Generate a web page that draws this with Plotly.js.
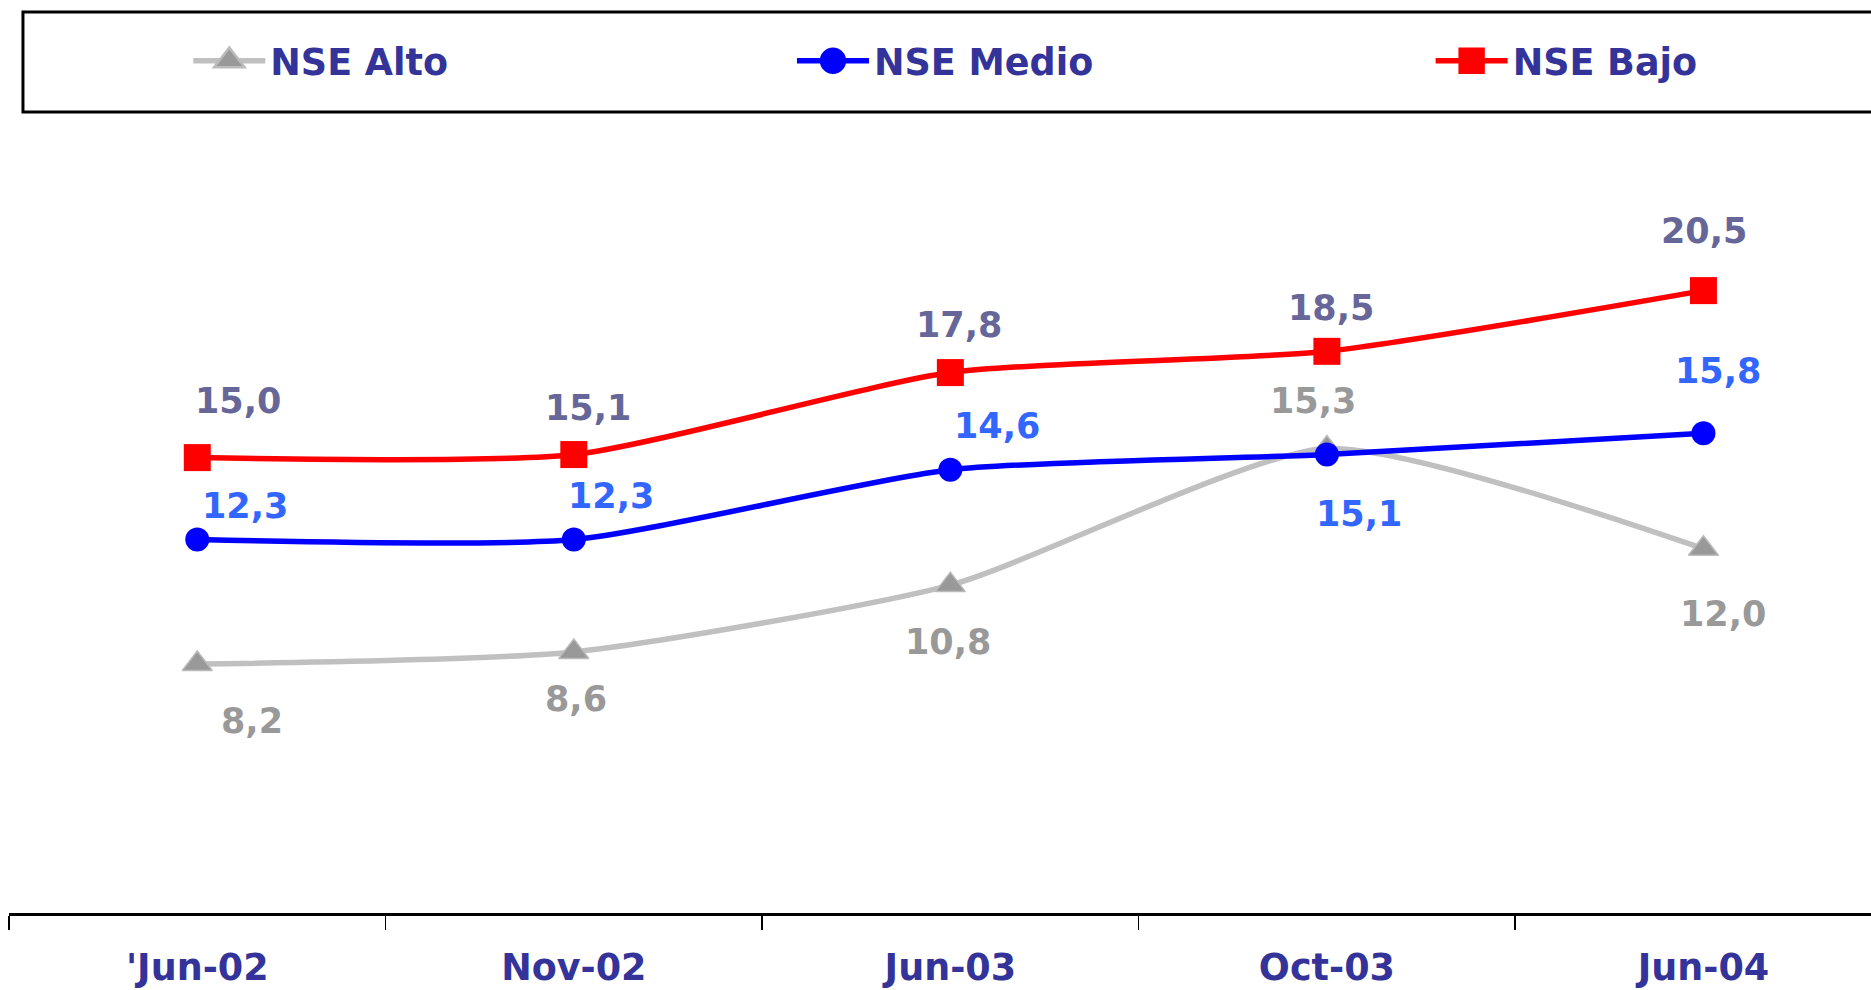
<!DOCTYPE html>
<html>
<head>
<meta charset="utf-8">
<script src="https://cdn.plot.ly/plotly-3.0.1.min.js"></script>
<style>
html,body{margin:0;padding:0;background:#fff;}
#chart{width:1871px;height:990px;}
</style>
</head>
<body>
<div id="chart"></div>
<script>
// ---- data ----
var categories = ["'Jun-02", "Nov-02", "Jun-03", "Oct-03", "Jun-04"];
var seriesNames = ["NSE Alto", "NSE Medio", "NSE Bajo"];
var nseAlto  = [8.2, 8.6, 10.8, 15.3, 12.0];
var nseMedio = [12.3, 12.3, 14.6, 15.1, 15.8];
var nseBajo  = [15.0, 15.1, 17.8, 18.5, 20.5];

// ---- label offsets (pixels, style only) ----
var altoShift  = [[55,-57],[2,-47],[-2,-57],[-14,47],[20,-65]];
var medioShift = [[48,34],[37,44],[47,44],[32,-59],[15,62]];
var bajoShift  = [[41,57],[14,47],[9,48],[4,43],[1,60]];

var axisColor = '#333399';
var labelFont = 'DejaVu Sans';

function fmt(v){ return v.toFixed(1).replace('.', ','); }

var traces = [
  {
    name: seriesNames[0], x: categories, y: nseAlto, type: 'scatter', mode: 'lines+markers',
    line: {color: '#C0C0C0', width: 5.5, shape: 'spline', smoothing: 0.6},
    marker: {symbol: 'triangle-up', size: 26, color: '#999999', line: {color: '#BBBBBB', width: 1.5}},
    legend: 'legend', hoverinfo: 'skip'
  },
  {
    name: seriesNames[1], x: categories, y: nseMedio, type: 'scatter', mode: 'lines+markers',
    line: {color: '#0000FF', width: 5.5, shape: 'spline', smoothing: 0.6},
    marker: {symbol: 'circle', size: 24, color: '#0000FF'},
    legend: 'legend2', hoverinfo: 'skip'
  },
  {
    name: seriesNames[2], x: categories, y: nseBajo, type: 'scatter', mode: 'lines+markers',
    line: {color: '#FF0000', width: 5.5, shape: 'spline', smoothing: 0.6},
    marker: {symbol: 'square', size: 27, color: '#FF0000'},
    legend: 'legend3', hoverinfo: 'skip'
  }
];

var annotations = [];
function addLabels(vals, shifts, color){
  vals.forEach(function(v, i){
    annotations.push({
      x: categories[i], y: v, xref: 'x', yref: 'y',
      text: fmt(v), showarrow: false,
      xshift: shifts[i][0], yshift: shifts[i][1],
      xanchor: 'center', yanchor: 'middle',
      font: {family: labelFont, size: 35, color: color, weight: 'bold'}
    });
  });
}
addLabels(nseAlto, altoShift, '#999999');
addLabels(nseMedio, medioShift, '#3366FF');
addLabels(nseBajo, bajoShift, '#666699');

function legendCfg(x){
  return {
    x: x, xanchor: 'left', y: 1.1225, yanchor: 'middle',
    orientation: 'h', bgcolor: 'rgba(0,0,0,0)', borderwidth: 0,
    itemwidth: 72,
    font: {family: 'DejaVu Sans', size: 36.5, color: axisColor, weight: 'bold'}
  };
}

var layout = {
  width: 1871, height: 990,
  margin: {l: 9, r: 0, t: 154, b: 77, pad: 0},
  paper_bgcolor: '#ffffff', plot_bgcolor: '#ffffff',
  showlegend: true,
  legend: legendCfg(0.0963),
  legend2: legendCfg(0.4205),
  legend3: legendCfg(0.7635),
  xaxis: {
    type: 'category', range: [-0.5, 4.445],
    showline: true, linecolor: '#000000', linewidth: 3,
    ticks: 'outside', tickson: 'boundaries', ticklen: 14, tickwidth: 1.5, tickcolor: '#000000',
    ticklabelstandoff: 20,
    showgrid: false, zeroline: false,
    tickfont: {family: 'DejaVu Sans', size: 36.5, color: axisColor, weight: 'bold'},
    fixedrange: true
  },
  yaxis: {
    range: [0, 25], visible: false, showgrid: false, zeroline: false, fixedrange: true
  },
  shapes: [{
    type: 'rect', xref: 'paper', yref: 'paper',
    x0: 0.0075, x1: 1.02, y0: 1.0553, y1: 1.187,
    line: {color: '#000000', width: 3}, fillcolor: 'rgba(0,0,0,0)', layer: 'below'
  }],
  annotations: annotations
};

Plotly.newPlot('chart', traces, layout, {displayModeBar: false, staticPlot: true}).then(function(gd){
  // enlarge legend symbols to match the plotted markers
  var pts = gd.querySelectorAll('.legendpoints path.scatterpts');
  pts.forEach(function(p){
    var t = p.getAttribute('transform') || '';
    p.setAttribute('transform', t + ' scale(1.65)');
  });
  var lines = gd.querySelectorAll('.legendlines path');
  lines.forEach(function(p){ p.style.strokeWidth = '5.5px'; });
});
</script>
</body>
</html>
